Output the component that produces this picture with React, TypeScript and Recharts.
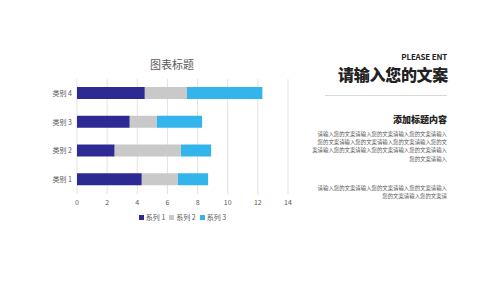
import React from "react";
import { BarChart, Bar, XAxis, YAxis, CartesianGrid, Legend } from "recharts";

const categories = ["类别 1", "类别 2", "类别 3", "类别 4"];
const series1 = [4.3, 2.5, 3.5, 4.5];
const series2 = [2.4, 4.4, 1.8, 2.8];
const series3 = [2, 2, 3, 5];
const xTicks = [0, 2, 4, 6, 8, 10, 12, 14];

const data = categories.map((name, i) => ({
  name,
  s1: series1[i],
  s2: series2[i],
  s3: series3[i],
}));

const font = '"Noto Sans CJK SC", "Noto Sans", sans-serif';

const para1 = [
  "请输入您的文案请输入您的文案请输入您的文案请输入",
  "您的文案请输入您的文案请输入您的文案请输入您的文",
  "案请输入您的文案请输入您的文案请输入您的文案请输入",
  "您的文案请输入",
];
const para2 = ["请输入您的文案请输入您的文案请输入您的文案请输入", "您的文案请输入您的文案请"];

// tighter legend than the default one
const renderLegend = (props: any) => (
  <div style={{ display: "flex", justifyContent: "center", gap: 4, fontSize: 7, color: "#595959" }}>
    {props.payload.map((p: any) => (
      <span key={p.value} style={{ display: "flex", alignItems: "center", gap: 2 }}>
        <span style={{ width: 5, height: 5, background: p.color, display: "inline-block" }} />
        {p.value}
      </span>
    ))}
  </div>
);

export default function App() {
  return (
    <div
      style={{
        position: "absolute",
        left: 0,
        top: 0,
        width: 500,
        height: 281,
        background: "#fff",
        fontFamily: font,
        overflow: "hidden",
      }}
    >
      <div
        style={{
          position: "absolute",
          left: 122,
          top: 56,
          width: 100,
          textAlign: "center",
          fontSize: 11,
          color: "#595959",
          lineHeight: "16px",
        }}
      >
        图表标题
      </div>
      <div style={{ position: "absolute", left: 0, top: 0 }}>
        <BarChart
          width={300}
          height={226}
          data={data}
          layout="vertical"
          barSize={12}
          margin={{ top: 79, right: 12, left: 22, bottom: 0 }}
        >
          <CartesianGrid horizontal={false} stroke="#e3e3e3" />
          <XAxis
            type="number"
            domain={[0, 14]}
            ticks={xTicks}
            axisLine={false}
            tickLine={false}
            height={18}
            tick={{ fontSize: 7, fill: "#595959", stroke: "none", fontFamily: font, dy: -2 }}
          />
          <YAxis
            type="category"
            dataKey="name"
            reversed
            width={55}
            axisLine={false}
            tickLine={false}
            tick={{ fontSize: 7, fill: "#595959", stroke: "none", fontFamily: font, dx: 3 }}
          />
          <Legend
            verticalAlign="bottom"
            height={14}
            content={renderLegend}
            wrapperStyle={{ left: 77, width: 211 }}
          />
          <Bar dataKey="s1" name="系列 1" stackId="a" fill="#2E2A93" isAnimationActive={false} />
          <Bar dataKey="s2" name="系列 2" stackId="a" fill="#C9C9C9" isAnimationActive={false} />
          <Bar dataKey="s3" name="系列 3" stackId="a" fill="#33B4EA" isAnimationActive={false} />
        </BarChart>
      </div>
      <div
        style={{
          position: "absolute",
          right: 53,
          top: 51,
          fontSize: 8,
          fontWeight: 600,
          color: "#222",
          letterSpacing: -0.2,
          textAlign: "right",
        }}
      >
        PLEASE ENT
      </div>
      <div
        style={{
          position: "absolute",
          right: 52,
          top: 64,
          fontSize: 16,
          fontWeight: 900,
          color: "#222",
          lineHeight: "20px",
          letterSpacing: -0.3,
        }}
      >
        请输入您的文案
      </div>
      <div
        style={{
          position: "absolute",
          left: 325,
          top: 95,
          width: 122,
          height: 1,
          background: "#d9d9d9",
        }}
      />
      <div
        style={{
          position: "absolute",
          right: 53,
          top: 113,
          fontSize: 9,
          fontWeight: 900,
          color: "#222",
          lineHeight: "13px",
        }}
      >
        添加标题内容
      </div>
      <div
        style={{
          position: "absolute",
          right: 53,
          top: 130,
          width: 140,
          fontSize: 5.4,
          color: "#555",
          lineHeight: "8.2px",
          textAlign: "right",
        }}
      >
        {para1.map((t, i) => (
          <div key={i}>{t}</div>
        ))}
      </div>
      <div
        style={{
          position: "absolute",
          right: 53,
          top: 184,
          width: 140,
          fontSize: 5.4,
          color: "#555",
          lineHeight: "8.2px",
          textAlign: "right",
        }}
      >
        {para2.map((t, i) => (
          <div key={i}>{t}</div>
        ))}
      </div>
    </div>
  );
}
